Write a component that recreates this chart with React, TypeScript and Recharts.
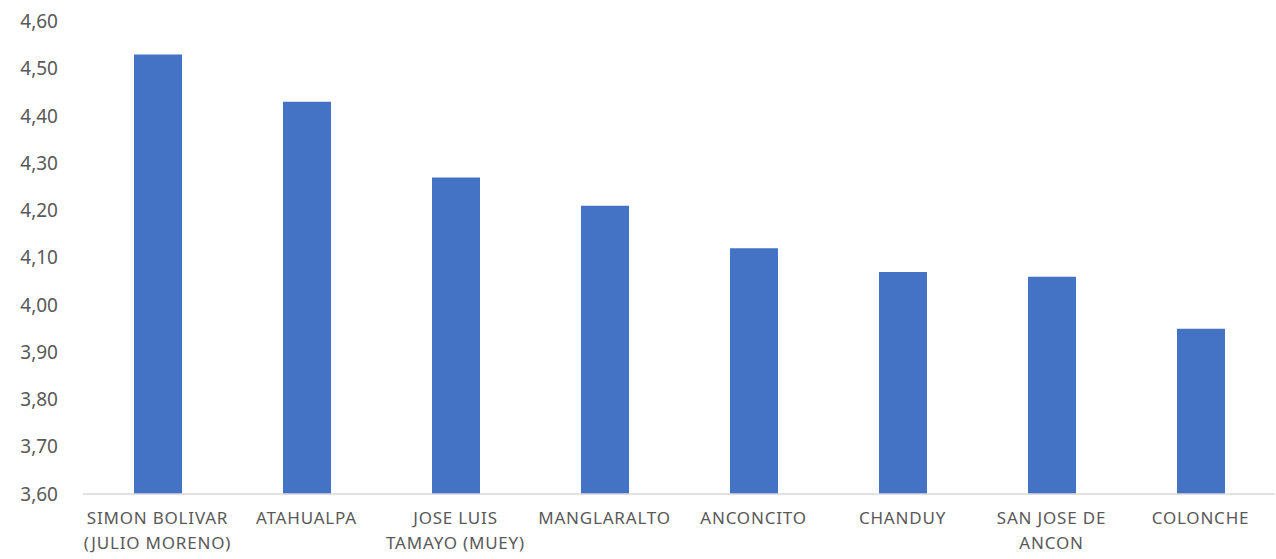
import { Bar, BarChart, XAxis, YAxis } from 'recharts';

const categories = [
  'SIMON BOLIVAR (JULIO MORENO)',
  'ATAHUALPA',
  'JOSE LUIS TAMAYO (MUEY)',
  'MANGLARALTO',
  'ANCONCITO',
  'CHANDUY',
  'SAN JOSE DE ANCON',
  'COLONCHE',
];
const values = [4.53, 4.43, 4.27, 4.21, 4.12, 4.07, 4.06, 3.95];
const yTicks = [3.6, 3.7, 3.8, 3.9, 4.0, 4.1, 4.2, 4.3, 4.4, 4.5, 4.6];

const data = categories.map((name, i) => ({ name, value: values[i] }));

const FONT = '"Noto Sans", sans-serif';
const TEXT = '#595959';

// greedy word wrap, max chars per line
function wrap(label: string, max = 14) {
  const lines: string[] = [];
  let cur = '';
  for (const w of label.split(' ')) {
    const next = cur ? cur + ' ' + w : w;
    if (next.length > max && cur) {
      lines.push(cur);
      cur = w;
    } else {
      cur = next;
    }
  }
  if (cur) lines.push(cur);
  return lines;
}

function CategoryTick(props: any) {
  const { x, y, payload } = props;
  const lines = wrap(String(payload.value));
  return (
    <text
      x={x}
      y={y}
      textAnchor="middle"
      fill={TEXT}
      fontFamily={FONT}
      fontSize={17}
      letterSpacing={0.8}
    >
      {lines.map((l, i) => (
        <tspan key={i} x={x} dy={i === 0 ? 22 : 25}>
          {l}
        </tspan>
      ))}
    </text>
  );
}

export default function App() {
  return (
    <div style={{ position: 'absolute', left: 0, top: 0, background: '#fff' }}>
      <BarChart
        width={1276}
        height={559}
        data={data}
        margin={{ top: 21.5, right: 1, bottom: 0, left: 0 }}
        barCategoryGap={0}
      >
        <XAxis
          dataKey="name"
          interval={0}
          tickLine={false}
          axisLine={{ stroke: '#d9d9d9', strokeWidth: 1.5 }}
          height={65}
          tick={<CategoryTick />}
        />
        <YAxis
          domain={[3.6, 4.6]}
          ticks={yTicks}
          allowDataOverflow
          width={83}
          axisLine={false}
          tickLine={false}
          tickSize={0}
          tickMargin={25}
          tick={{ fill: TEXT, fontFamily: FONT, fontSize: 19 }}
          tickFormatter={(v: number) => v.toFixed(2).replace('.', ',')}
        />
        <Bar dataKey="value" fill="#4472c4" barSize={48} isAnimationActive={false} />
      </BarChart>
    </div>
  );
}
